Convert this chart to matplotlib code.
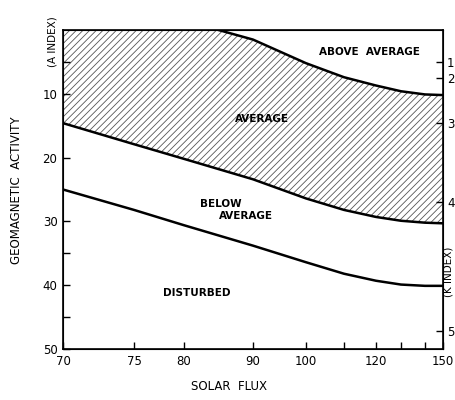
import numpy as np
import matplotlib.pyplot as plt

# solar flux axis is hand drawn: tick values and their positions along the axis
flux_ticks = [70, 75, 80, 90, 100, 110, 120, 130, 140, 150]
flux_pos = [0, 71, 121, 190, 243, 281, 313, 338, 362, 380]
flux_labels = ['70', '75', '80', '90', '100', '', '120', '', '', '150']

# boundary curves (A index vs solar flux)
flux = [70, 75, 80, 90, 100, 110, 120, 130, 140, 150]
avg_below = [14.6, 17.9, 20.2, 23.4, 26.4, 28.2, 29.3, 29.9, 30.2, 30.3]
below_disturbed = [25.0, 28.2, 30.6, 33.8, 36.4, 38.2, 39.3, 39.9, 40.1, 40.1]
flux_up = [85, 90, 100, 110, 120, 130, 140, 150]
above_avg = [0.0, 1.5, 5.2, 7.4, 8.7, 9.6, 10.1, 10.2]

# right axis: K index ticks expressed in A index units
k_ticks = [5.0, 7.5, 14.6, 27.0, 47.2]
k_labels = ['1', '2', '3', '4', '5']


def fwd(x):
    return np.interp(x, flux_ticks, flux_pos)


def inv(p):
    return np.interp(p, flux_pos, flux_ticks)


plt.rcParams['hatch.linewidth'] = 0.6
plt.rcParams['hatch.color'] = '#555555'

fig = plt.figure(figsize=(4.55, 4.0), dpi=100)
ax = fig.add_axes([0.1385, 0.1275, 0.835, 0.7975])
ax.set_xscale('function', functions=(fwd, inv))
ax.set_xlim(70, 150)
ax.set_ylim(50, 0)

# hatched "average" band
xf = np.linspace(70, 150, 200)
top = np.interp(xf, flux_up, above_avg, left=0)
bot = np.interp(xf, flux, avg_below)
ax.fill_between(xf, top, bot, facecolor='none', edgecolor='#555555',
                hatch='/////', linewidth=0)

ax.plot(flux, avg_below, color='black', lw=1.8)
ax.plot(flux, below_disturbed, color='black', lw=1.8)
ax.plot(flux_up, above_avg, color='black', lw=1.8)

ax.set_xticks(flux_ticks)
ax.set_xticklabels(flux_labels)
ax.set_xticks([], minor=True)
ax.set_yticks([5, 10, 20, 30, 35, 40, 45, 50])
ax.set_yticklabels(['', '10', '20', '30', '', '40', '', '50'])
ax.tick_params(direction='in', length=5, width=1, labelsize=8.5, pad=4)

for s in ax.spines.values():
    s.set_linewidth(1.2)

ax2 = ax.twinx()
ax2.set_ylim(50, 0)
ax2.set_yticks(k_ticks)
ax2.set_yticklabels(k_labels)
ax2.tick_params(direction='in', length=5, width=1, labelsize=8.5, pad=3)

fs = 7.5
ax.text(118, 3.5, 'ABOVE  AVERAGE', fontsize=fs, fontweight='bold', ha='center', va='center')
ax.text(91.7, 14, 'AVERAGE', fontsize=fs, fontweight='bold', ha='center', va='center')
ax.text(82.3, 27.3, 'BELOW', fontsize=fs, fontweight='bold', ha='left', va='center')
ax.text(85, 29.2, 'AVERAGE', fontsize=fs, fontweight='bold', ha='left', va='center')
ax.text(81.8, 41.2, 'DISTURBED', fontsize=fs, fontweight='bold', ha='center', va='center')

fig.text(0.503, 0.035, 'SOLAR  FLUX', fontsize=8.5, ha='center', va='center')
fig.text(0.037, 0.525, 'GEOMAGNETIC  ACTIVITY', fontsize=8.5, rotation=90, ha='center', va='center')
fig.text(0.115, 0.895, '(A INDEX)', fontsize=7.5, rotation=90, ha='center', va='center')
fig.text(0.985, 0.32, '(K INDEX)', fontsize=7.5, rotation=90, ha='center', va='center')

fig.savefig('out.png', dpi=100)
